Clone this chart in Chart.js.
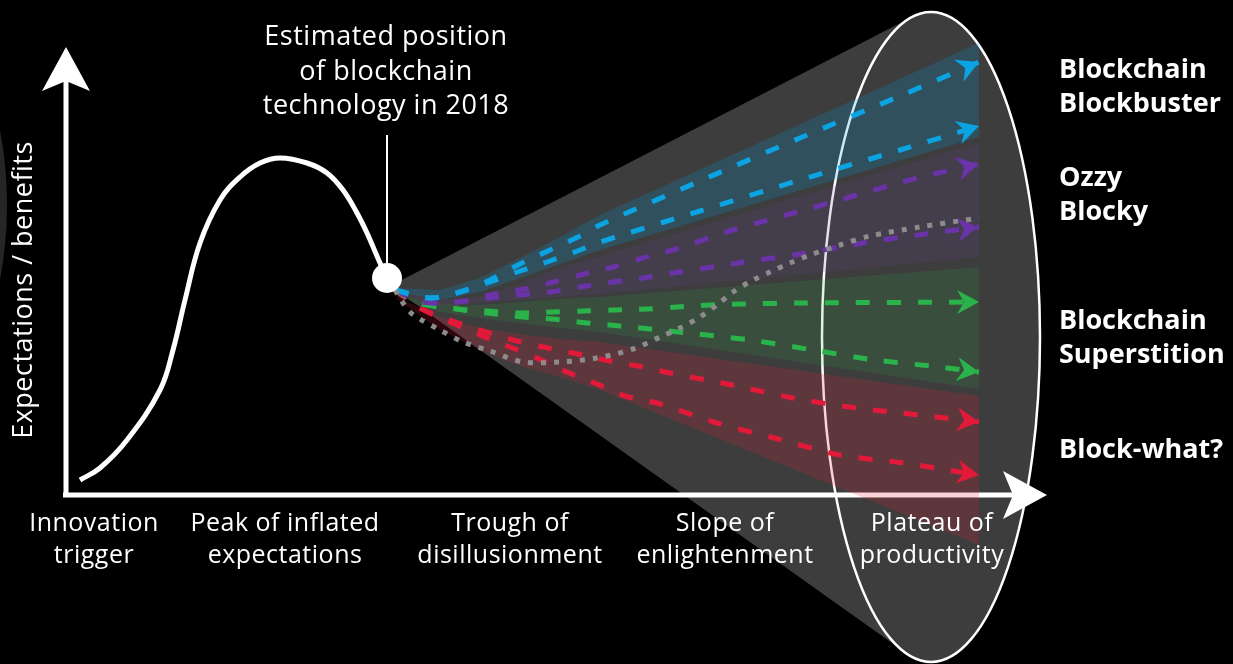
<!DOCTYPE html>
<html><head><meta charset="utf-8">
<script src="https://cdn.jsdelivr.net/npm/chart.js@4.4.1/dist/chart.umd.min.js"></script>
<style>html,body{margin:0;padding:0;background:#000;overflow:hidden}canvas{display:block}</style>
</head><body>
<canvas id="c" width="1233" height="664"></canvas>
<script>
// ---- data (x = time / maturity, y = expectations / benefits) ----
const hypeCurveX = [1.4,3.4,6.1,9.4,10.7,11.9,13.4,15.4,17.4,19.4,21.4,24.1,26.1,27.7,29.1,30.1,31.4,32.1];
const hypeCurveY = [1.5,2.7,5.5,10.5,14.5,19.5,25.2,29.5,31.8,33.2,33.7,33.2,32.2,30.5,28.2,26.2,23.2,21.7];
const position2018 = [32.1, 21.7];
const calloutTopY = 36.0;

const blueHighX = [32.9,36.4,39.4,42.4,45.4,48.4,51.4,53.4,63.4,73.4,83.4,91.3];
const blueHighY = [20.5,19.7,20.3,21.5,23.1,24.5,25.9,27.0,31.4,35.7,39.9,43.3];
const blueLowX  = [32.9,36.4,39.4,42.4,45.4,48.4,51.4,53.4,63.4,73.4,83.4,91.3];
const blueLowY  = [20.5,19.7,20.3,21.3,22.4,23.4,24.5,25.3,28.4,31.5,34.5,36.9];
const purpleHighX = [32.9,35.7,39.1,42.4,45.4,48.4,51.4,54.7,57.7,60.7,66.7,73.1,79.1,85.1,91.3];
const purpleHighY = [20.5,19.3,19.3,20.0,20.5,21.2,22.0,22.8,23.7,24.5,26.5,28.3,30.0,31.7,33.1];
const purpleLowX  = [32.9,35.7,39.1,42.4,45.4,48.4,51.4,54.7,57.7,60.7,67.2,73.4,79.7,85.9,91.3];
const purpleLowY  = [20.5,19.3,19.3,19.7,20.0,20.3,20.8,21.3,21.7,22.2,23.2,24.1,25.2,26.1,26.8];
const greenHighX = [32.9,35.4,39.1,42.1,45.1,48.7,51.7,54.7,58.1,61.1,64.4,67.7,73.4,91.3];
const greenHighY = [20.5,19.2,18.6,18.4,18.2,18.3,18.4,18.5,18.6,18.8,19.0,19.1,19.2,19.3];
const greenLowX  = [32.9,35.4,39.1,42.1,45.7,48.7,52.1,55.4,62.1,68.4,74.7,80.9,87.4,91.3];
const greenLowY  = [20.5,19.2,18.6,18.2,17.8,17.6,17.2,16.9,16.2,15.5,14.5,13.5,12.8,12.3];
const redHighX = [32.9,35.4,38.4,41.4,44.7,47.7,50.7,53.9,57.2,60.4,66.6,72.7,79.1,85.4,91.3];
const redHighY = [20.5,18.7,17.5,16.5,15.5,14.8,14.2,13.5,12.9,12.2,11.0,9.7,8.7,8.0,7.3];
const redLowX  = [32.9,35.4,38.4,41.4,44.4,47.1,50.1,53.1,55.9,59.1,65.1,71.2,77.4,83.7,91.3];
const redLowY  = [20.5,18.7,17.3,16.0,14.8,13.7,12.3,11.1,9.9,9.2,7.2,5.6,4.0,3.2,2.0];
const hypeRepeatX = [32.9,33.7,34.4,35.4,37.4,39.7,42.4,45.7,49.4,53.1,56.7,59.4,61.4,63.4,65.1,66.7,68.7,70.4,72.4,74.4,77.4,80.4,85.4,91.3];
const hypeRepeatY = [20.5,19.2,18.3,17.6,16.5,15.3,14.4,13.3,13.3,13.7,14.6,15.8,16.7,17.8,19.0,20.3,21.5,22.3,23.2,24.0,25.0,25.9,26.8,27.7];

const bandX = [33.1,37.4,41.4,45.4,49.4,53.4,91.3];
const blueBandTop = [20.7,20.5,21.7,23.7,25.8,28.0,45.2];
const blueBandBottom = [20.3,19.5,20.3,21.7,23.1,24.5,35.8];
const purpleBandTop = [20.3,19.5,19.8,21.2,22.7,23.9,35.2];
const purpleBandBottom = [20.1,18.9,19.2,19.5,19.8,20.1,23.8];
const greenBandTop = [20.0,19.1,19.0,19.3,19.6,19.8,22.8];
const greenBandBottom = [19.8,18.3,17.7,17.2,16.7,16.3,10.6];
const redBandTop = [19.8,17.8,16.7,16.1,15.6,15.3,9.9];
const redBandBottom = [19.6,16.5,14.5,12.9,11.8,10.5,-5.0];

const coneX = [32.4,84.6,86.5,84.0];
const coneY = [20.9,47.8,15.8,-15.8];
const plateauEllipse = [86.5, 15.8, 10.9, 32.5]; // centre x, centre y, radius x, radius y

const axisTopY = 44.8;
const axisRightX = 98.1;

const phaseLabels = [["Innovation","trigger"],["Peak of inflated","expectations"],["Trough of","disillusionment"],["Slope of","enlightenment"],["Plateau of","productivity"]];
const phaseX = [2.8,21.9,44.4,65.9,86.6];
const phaseLineY = [-2.9,-6.1];
const scenarioLabels = [["Blockchain","Blockbuster"],["Ozzy","Blocky"],["Blockchain","Superstition"],["Block-what?"]];
const scenarioLabelY = [[42.5,39.1],[31.7,28.3],[17.4,14.0],[4.5]];
const scenarioLabelX = 99.3;
const calloutLines = ["Estimated position","of blockchain","technology in 2018"];
const calloutX = 32.0;
const calloutY = [45.8,42.3,38.9];
const yAxisTitle = "Expectations / benefits";
const yAxisTitlePos = [-4.2, 20.5];
const edgeDisc = [-46.4, 29.0, 40.5];

// ---- helpers ----
const pts = (xs, ys) => xs.map((x, i) => ({x, y: ys[i]}));
const shape = (xs, top, bottom) => pts(xs, top).concat(pts(xs.slice().reverse(), bottom.slice().reverse()));

const GRAY = '#3d3d3d';
const FONT = '"Open Sans", "DejaVu Sans", sans-serif';

function bandDs(top, bottom, color) {
  return {data: shape(bandX, top, bottom), showLine: true, fill: 'shape', backgroundColor: color,
    borderWidth: 0, borderColor: 'rgba(0,0,0,0)', pointRadius: 0, tension: 0, order: 90};
}
function pathDs(xs, ys, color, dash, arrow) {
  return {data: pts(xs, ys), showLine: true, fill: false, borderColor: color, borderWidth: 5,
    borderDash: dash, borderCapStyle: 'butt', pointRadius: 0, tension: 0.3, order: 50, arrow: arrow ? color : null};
}

const datasets = [
  {role: 'cone', data: pts(coneX, coneY), showLine: true, fill: 'shape', backgroundColor: GRAY,
   borderWidth: 0, borderColor: 'rgba(0,0,0,0)', pointRadius: 0, tension: 0, order: 100},
  bandDs(blueBandTop, blueBandBottom, 'rgba(0,160,224,0.20)'),
  bandDs(purpleBandTop, purpleBandBottom, 'rgba(106,61,154,0.16)'),
  bandDs(greenBandTop, greenBandBottom, 'rgba(45,179,74,0.15)'),
  bandDs(redBandTop, redBandBottom, 'rgba(224,34,58,0.20)'),
  pathDs(hypeRepeatX, hypeRepeatY, '#8c8c8c', [5, 8], false),
  pathDs(blueHighX, blueHighY, '#0ba3e2', [14, 17], true),
  pathDs(blueLowX, blueLowY, '#0ba3e2', [14, 17], true),
  pathDs(purpleHighX, purpleHighY, '#6a33a8', [14, 17], true),
  pathDs(purpleLowX, purpleLowY, '#6a33a8', [14, 17], true),
  pathDs(greenHighX, greenHighY, '#2bb34b', [14, 17], true),
  pathDs(greenLowX, greenLowY, '#2bb34b', [14, 17], true),
  pathDs(redHighX, redHighY, '#e3193a', [14, 17], true),
  pathDs(redLowX, redLowY, '#e3193a', [14, 17], true),
  {data: pts(hypeCurveX, hypeCurveY), showLine: true, fill: false, borderColor: '#ffffff', borderWidth: 5,
   pointRadius: 0, tension: 0.4, borderCapStyle: 'butt', order: 10},
  {data: [{x: position2018[0], y: position2018[1]}, {x: position2018[0], y: calloutTopY}], showLine: true,
   borderColor: '#ffffff', borderWidth: 2, pointRadius: 0, order: 8},
  {data: [{x: position2018[0], y: position2018[1]}], showLine: false, pointRadius: 15, pointBackgroundColor: '#ffffff',
   pointBorderWidth: 0, order: 5}
];

function arrowHead(ctx, tx, ty, ang, len, hw, notch, color) {
  const c = Math.cos(ang), s = Math.sin(ang);
  ctx.save();
  ctx.fillStyle = color;
  ctx.beginPath();
  ctx.moveTo(tx, ty);
  ctx.lineTo(tx - len * c - hw * s, ty - len * s + hw * c);
  ctx.lineTo(tx - notch * c, ty - notch * s);
  ctx.lineTo(tx - len * c + hw * s, ty - len * s - hw * c);
  ctx.closePath();
  ctx.fill();
  ctx.restore();
}

const overlay = {
  id: 'overlay',
  beforeDatasetsDraw(chart) {
    const {ctx, scales: {x, y}} = chart;
    ctx.save();
    ctx.fillStyle = '#262626';
    ctx.beginPath();
    const r = x.getPixelForValue(edgeDisc[2]) - x.getPixelForValue(0);
    ctx.arc(x.getPixelForValue(edgeDisc[0]), y.getPixelForValue(edgeDisc[1]), r, 0, Math.PI * 2);
    ctx.fill();
    ctx.restore();
  },
  afterDatasetDraw(chart, args) {
    const ds = chart.data.datasets[args.index];
    const {ctx, scales: {x, y}} = chart;
    if (ds.role === 'cone') {
      const cx = x.getPixelForValue(plateauEllipse[0]), cy = y.getPixelForValue(plateauEllipse[1]);
      const rx = x.getPixelForValue(plateauEllipse[0] + plateauEllipse[2]) - cx;
      const ry = cy - y.getPixelForValue(plateauEllipse[1] + plateauEllipse[3]);
      ctx.save();
      ctx.fillStyle = GRAY;
      ctx.beginPath(); ctx.ellipse(cx, cy, rx, ry, 0, 0, Math.PI * 2); ctx.fill();
      ctx.strokeStyle = '#ffffff'; ctx.lineWidth = 2.5;
      ctx.beginPath(); ctx.ellipse(cx, cy, rx, ry, 0, 0, Math.PI * 2); ctx.stroke();
      // axes
      const ox = x.getPixelForValue(0), oy = y.getPixelForValue(0);
      const ty = y.getPixelForValue(axisTopY), tx = x.getPixelForValue(axisRightX);
      ctx.fillStyle = '#ffffff';
      ctx.fillRect(ox - 2.5, ty + 30, 5, oy - ty - 28);
      ctx.fillRect(ox - 3, oy - 2.5, tx - ox - 30, 5);
      arrowHead(ctx, ox, ty, -Math.PI / 2, 44, 24, 34, '#ffffff');
      arrowHead(ctx, tx, oy, 0, 44, 24, 34, '#ffffff');
      ctx.restore();
    }
    if (ds.arrow) {
      const meta = chart.getDatasetMeta(args.index);
      const p = meta.data, a = p[p.length - 2], b = p[p.length - 1];
      arrowHead(ctx, b.x, b.y, Math.atan2(b.y - a.y, b.x - a.x), 22, 12, 15, ds.arrow);
    }
  },
  afterDraw(chart) {
    const {ctx, scales: {x, y}} = chart;
    ctx.save();
    ctx.fillStyle = '#ffffff';
    ctx.textAlign = 'center';
    ctx.textBaseline = 'middle';
    ctx.letterSpacing = '0.5px';
    ctx.font = '25px ' + FONT;
    phaseLabels.forEach((lines, i) => lines.forEach((t, j) =>
      ctx.fillText(t, x.getPixelForValue(phaseX[i]), y.getPixelForValue(phaseLineY[j]))));
    ctx.font = '27px ' + FONT;
    calloutLines.forEach((t, j) => ctx.fillText(t, x.getPixelForValue(calloutX), y.getPixelForValue(calloutY[j])));
    ctx.textAlign = 'left';
    ctx.letterSpacing = '0px';
    ctx.font = 'bold 27px ' + FONT;
    scenarioLabels.forEach((lines, i) => lines.forEach((t, j) =>
      ctx.fillText(t, x.getPixelForValue(scenarioLabelX), y.getPixelForValue(scenarioLabelY[i][j]))));
    ctx.translate(x.getPixelForValue(yAxisTitlePos[0]), y.getPixelForValue(yAxisTitlePos[1]));
    ctx.rotate(-Math.PI / 2);
    ctx.textAlign = 'center';
    ctx.letterSpacing = '0.5px';
    ctx.font = '27px ' + FONT;
    ctx.fillText(yAxisTitle, 0, 0);
    ctx.restore();
  }
};

new Chart(document.getElementById('c'), {
  type: 'scatter',
  data: {datasets},
  options: {
    responsive: false, animation: false, devicePixelRatio: 1,
    layout: {padding: 0, autoPadding: false},
    plugins: {legend: {display: false}, tooltip: {enabled: false}},
    scales: {
      x: {type: 'linear', min: -6.6, max: 116.7, display: false},
      y: {type: 'linear', min: -16.9, max: 49.5, display: false}
    }
  },
  plugins: [overlay]
});
</script>
</body></html>
